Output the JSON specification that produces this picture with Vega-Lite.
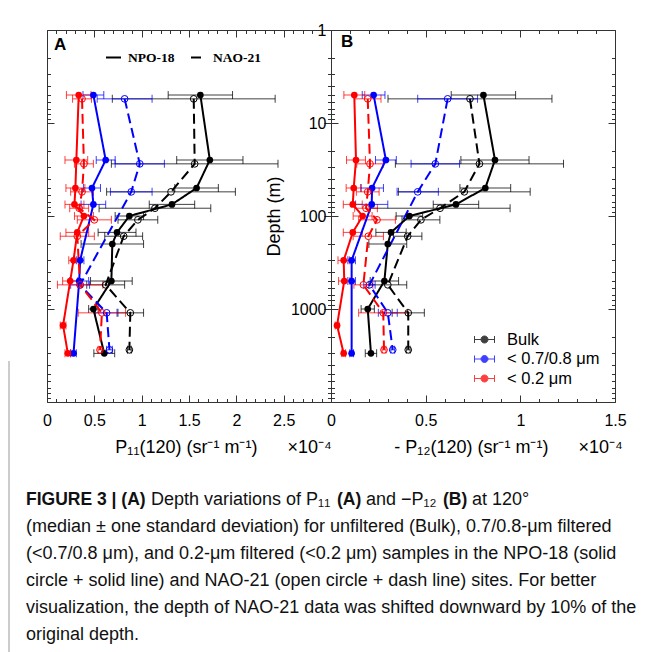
{
"$schema":"https://vega.github.io/schema/vega-lite/v6.json",
"background":"white",
"padding":{"left":8,"top":21,"right":0,"bottom":0},
"config":{"font":"Liberation Sans","view":{"stroke":"#333","strokeWidth":1},
"axis":{"domain":false,"grid":false,"labelFontSize":16,"labelColor":"#000","tickColor":"#333","titleFontSize":18,"titleFontWeight":"normal","titleColor":"#000","labelFont":"Liberation Sans","titleFont":"Liberation Sans","labelFlush":false},
"legend":{"labelFont":"Liberation Sans","labelColor":"#000"}},
"datasets":{
"pts":[
{"p":"A","s":"NPO-18","g":"Bulk","d":5,"v":1.62,"e":0.34},
{"p":"A","s":"NPO-18","g":"Bulk","d":25,"v":1.72,"e":0.35},
{"p":"A","s":"NPO-18","g":"Bulk","d":50,"v":1.58,"e":0.23},
{"p":"A","s":"NPO-18","g":"Bulk","d":75,"v":1.32,"e":0.24},
{"p":"A","s":"NPO-18","g":"Bulk","d":100,"v":0.87,"e":0.15},
{"p":"A","s":"NPO-18","g":"Bulk","d":150,"v":0.74,"e":0.2},
{"p":"A","s":"NPO-18","g":"Bulk","d":200,"v":0.69,"e":0.33},
{"p":"A","s":"NPO-18","g":"Bulk","d":500,"v":0.68,"e":0.22},
{"p":"A","s":"NPO-18","g":"Bulk","d":1000,"v":0.49,"e":0.05},
{"p":"A","s":"NPO-18","g":"Bulk","d":3000,"v":0.605,"e":0.11},
{"p":"A","s":"NAO-21","g":"Bulk","d":5.5,"v":1.55,"e":0.86},
{"p":"A","s":"NAO-21","g":"Bulk","d":27.5,"v":1.56,"e":0.88},
{"p":"A","s":"NAO-21","g":"Bulk","d":55,"v":1.31,"e":0.68},
{"p":"A","s":"NAO-21","g":"Bulk","d":82.5,"v":1.14,"e":0.59},
{"p":"A","s":"NAO-21","g":"Bulk","d":110,"v":0.96,"e":0.21},
{"p":"A","s":"NAO-21","g":"Bulk","d":165,"v":0.81,"e":0.2},
{"p":"A","s":"NAO-21","g":"Bulk","d":550,"v":0.62,"e":0.2},
{"p":"A","s":"NAO-21","g":"Bulk","d":1100,"v":0.88,"e":0.14},
{"p":"A","s":"NAO-21","g":"Bulk","d":2750,"v":0.87,"e":0.02},
{"p":"A","s":"NPO-18","g":"< 0.7/0.8 μm","d":5,"v":0.49,"e":0.11},
{"p":"A","s":"NPO-18","g":"< 0.7/0.8 μm","d":25,"v":0.62,"e":0.1},
{"p":"A","s":"NPO-18","g":"< 0.7/0.8 μm","d":50,"v":0.475,"e":0.09},
{"p":"A","s":"NPO-18","g":"< 0.7/0.8 μm","d":75,"v":0.49,"e":0.13},
{"p":"A","s":"NPO-18","g":"< 0.7/0.8 μm","d":300,"v":0.35,"e":0.04},
{"p":"A","s":"NPO-18","g":"< 0.7/0.8 μm","d":500,"v":0.34,"e":0.1},
{"p":"A","s":"NPO-18","g":"< 0.7/0.8 μm","d":3000,"v":0.28,"e":0.03},
{"p":"A","s":"NAO-21","g":"< 0.7/0.8 μm","d":5.5,"v":0.82,"e":0.29},
{"p":"A","s":"NAO-21","g":"< 0.7/0.8 μm","d":27.5,"v":0.98,"e":0.26},
{"p":"A","s":"NAO-21","g":"< 0.7/0.8 μm","d":55,"v":0.89,"e":0.22},
{"p":"A","s":"NAO-21","g":"< 0.7/0.8 μm","d":550,"v":0.35,"e":0.1},
{"p":"A","s":"NAO-21","g":"< 0.7/0.8 μm","d":1100,"v":0.63,"e":0.12},
{"p":"A","s":"NAO-21","g":"< 0.7/0.8 μm","d":2750,"v":0.66,"e":0.03},
{"p":"A","s":"NPO-18","g":"< 0.2 μm","d":5,"v":0.335,"e":0.13},
{"p":"A","s":"NPO-18","g":"< 0.2 μm","d":25,"v":0.31,"e":0.12},
{"p":"A","s":"NPO-18","g":"< 0.2 μm","d":50,"v":0.3,"e":0.1},
{"p":"A","s":"NPO-18","g":"< 0.2 μm","d":75,"v":0.29,"e":0.1},
{"p":"A","s":"NPO-18","g":"< 0.2 μm","d":100,"v":0.39,"e":0.1},
{"p":"A","s":"NPO-18","g":"< 0.2 μm","d":150,"v":0.32,"e":0.12},
{"p":"A","s":"NPO-18","g":"< 0.2 μm","d":300,"v":0.28,"e":0.05},
{"p":"A","s":"NPO-18","g":"< 0.2 μm","d":500,"v":0.245,"e":0.08},
{"p":"A","s":"NPO-18","g":"< 0.2 μm","d":1500,"v":0.17,"e":0.03},
{"p":"A","s":"NPO-18","g":"< 0.2 μm","d":3000,"v":0.22,"e":0.03},
{"p":"A","s":"NAO-21","g":"< 0.2 μm","d":5.5,"v":0.37,"e":0.1},
{"p":"A","s":"NAO-21","g":"< 0.2 μm","d":27.5,"v":0.39,"e":0.1},
{"p":"A","s":"NAO-21","g":"< 0.2 μm","d":55,"v":0.37,"e":0.12},
{"p":"A","s":"NAO-21","g":"< 0.2 μm","d":82.5,"v":0.34,"e":0.1},
{"p":"A","s":"NAO-21","g":"< 0.2 μm","d":110,"v":0.5,"e":0.18},
{"p":"A","s":"NAO-21","g":"< 0.2 μm","d":165,"v":0.32,"e":0.18},
{"p":"A","s":"NAO-21","g":"< 0.2 μm","d":550,"v":0.35,"e":0.24},
{"p":"A","s":"NAO-21","g":"< 0.2 μm","d":1100,"v":0.58,"e":0.25},
{"p":"A","s":"NAO-21","g":"< 0.2 μm","d":2750,"v":0.56,"e":0.02},
{"p":"B","s":"NPO-18","g":"Bulk","d":5,"v":0.805,"e":0.17},
{"p":"B","s":"NPO-18","g":"Bulk","d":25,"v":0.866,"e":0.18},
{"p":"B","s":"NPO-18","g":"Bulk","d":50,"v":0.815,"e":0.134},
{"p":"B","s":"NPO-18","g":"Bulk","d":75,"v":0.66,"e":0.12},
{"p":"B","s":"NPO-18","g":"Bulk","d":100,"v":0.414,"e":0.07},
{"p":"B","s":"NPO-18","g":"Bulk","d":150,"v":0.317,"e":0.08},
{"p":"B","s":"NPO-18","g":"Bulk","d":200,"v":0.3,"e":0.1},
{"p":"B","s":"NPO-18","g":"Bulk","d":500,"v":0.282,"e":0.075},
{"p":"B","s":"NPO-18","g":"Bulk","d":1000,"v":0.194,"e":0.035},
{"p":"B","s":"NPO-18","g":"Bulk","d":3000,"v":0.211,"e":0.03},
{"p":"B","s":"NAO-21","g":"Bulk","d":5.5,"v":0.734,"e":0.433},
{"p":"B","s":"NAO-21","g":"Bulk","d":27.5,"v":0.784,"e":0.444},
{"p":"B","s":"NAO-21","g":"Bulk","d":55,"v":0.704,"e":0.348},
{"p":"B","s":"NAO-21","g":"Bulk","d":82.5,"v":0.576,"e":0.37},
{"p":"B","s":"NAO-21","g":"Bulk","d":110,"v":0.475,"e":0.1},
{"p":"B","s":"NAO-21","g":"Bulk","d":165,"v":0.405,"e":0.075},
{"p":"B","s":"NAO-21","g":"Bulk","d":550,"v":0.3,"e":0.1},
{"p":"B","s":"NAO-21","g":"Bulk","d":1100,"v":0.408,"e":0.085},
{"p":"B","s":"NAO-21","g":"Bulk","d":2750,"v":0.408,"e":0.01},
{"p":"B","s":"NPO-18","g":"< 0.7/0.8 μm","d":5,"v":0.225,"e":0.06},
{"p":"B","s":"NPO-18","g":"< 0.7/0.8 μm","d":25,"v":0.29,"e":0.055},
{"p":"B","s":"NPO-18","g":"< 0.7/0.8 μm","d":50,"v":0.217,"e":0.06},
{"p":"B","s":"NPO-18","g":"< 0.7/0.8 μm","d":75,"v":0.215,"e":0.085},
{"p":"B","s":"NPO-18","g":"< 0.7/0.8 μm","d":300,"v":0.109,"e":0.02},
{"p":"B","s":"NPO-18","g":"< 0.7/0.8 μm","d":500,"v":0.109,"e":0.02},
{"p":"B","s":"NPO-18","g":"< 0.7/0.8 μm","d":3000,"v":0.109,"e":0.01},
{"p":"B","s":"NAO-21","g":"< 0.7/0.8 μm","d":5.5,"v":0.616,"e":0.158},
{"p":"B","s":"NAO-21","g":"< 0.7/0.8 μm","d":27.5,"v":0.551,"e":0.128},
{"p":"B","s":"NAO-21","g":"< 0.7/0.8 μm","d":55,"v":0.458,"e":0.109},
{"p":"B","s":"NAO-21","g":"< 0.7/0.8 μm","d":550,"v":0.203,"e":0.03},
{"p":"B","s":"NAO-21","g":"< 0.7/0.8 μm","d":1100,"v":0.3,"e":0.05},
{"p":"B","s":"NAO-21","g":"< 0.7/0.8 μm","d":2750,"v":0.326,"e":0.01},
{"p":"B","s":"NPO-18","g":"< 0.2 μm","d":5,"v":0.123,"e":0.055},
{"p":"B","s":"NPO-18","g":"< 0.2 μm","d":25,"v":0.132,"e":0.05},
{"p":"B","s":"NPO-18","g":"< 0.2 μm","d":50,"v":0.12,"e":0.04},
{"p":"B","s":"NPO-18","g":"< 0.2 μm","d":75,"v":0.115,"e":0.05},
{"p":"B","s":"NPO-18","g":"< 0.2 μm","d":100,"v":0.167,"e":0.05},
{"p":"B","s":"NPO-18","g":"< 0.2 μm","d":150,"v":0.115,"e":0.05},
{"p":"B","s":"NPO-18","g":"< 0.2 μm","d":300,"v":0.067,"e":0.03},
{"p":"B","s":"NPO-18","g":"< 0.2 μm","d":500,"v":0.07,"e":0.03},
{"p":"B","s":"NPO-18","g":"< 0.2 μm","d":1500,"v":0.032,"e":0.01},
{"p":"B","s":"NPO-18","g":"< 0.2 μm","d":3000,"v":0.067,"e":0.01},
{"p":"B","s":"NAO-21","g":"< 0.2 μm","d":5.5,"v":0.194,"e":0.07},
{"p":"B","s":"NAO-21","g":"< 0.2 μm","d":27.5,"v":0.206,"e":0.07},
{"p":"B","s":"NAO-21","g":"< 0.2 μm","d":55,"v":0.194,"e":0.06},
{"p":"B","s":"NAO-21","g":"< 0.2 μm","d":82.5,"v":0.185,"e":0.06},
{"p":"B","s":"NAO-21","g":"< 0.2 μm","d":110,"v":0.243,"e":0.097},
{"p":"B","s":"NAO-21","g":"< 0.2 μm","d":165,"v":0.197,"e":0.08},
{"p":"B","s":"NAO-21","g":"< 0.2 μm","d":550,"v":0.171,"e":0.05},
{"p":"B","s":"NAO-21","g":"< 0.2 μm","d":1100,"v":0.276,"e":0.13},
{"p":"B","s":"NAO-21","g":"< 0.2 μm","d":2750,"v":0.28,"e":0.01}
],
"cap":[
{"line":1,"seg":1,"t":"FIGURE 3 | (A)"},
{"line":1,"seg":2,"t":"Depth variations of P₁₁"},
{"line":1,"seg":3,"t":"(A)"},
{"line":1,"seg":4,"t":"and −P₁₂"},
{"line":1,"seg":5,"t":"(B)"},
{"line":1,"seg":6,"t":"at 120°"},
{"line":2,"seg":0,"t":"(median ± one standard deviation) for unfiltered (Bulk), 0.7/0.8-μm filtered"},
{"line":3,"seg":0,"t":"(<0.7/0.8 μm), and 0.2-μm filtered (<0.2 μm) samples in the NPO-18 (solid"},
{"line":4,"seg":0,"t":"circle + solid line) and NAO-21 (open circle + dash line) sites. For better"},
{"line":5,"seg":0,"t":"visualization, the depth of NAO-21 data was shifted downward by 10% of the"},
{"line":6,"seg":0,"t":"original depth."}
]
},
"concat":[
{"width":284,"height":372,"data":{"name":"pts"},
"transform":[{"filter":"datum.p === 'A'"}],
"title":{"text":"A","anchor":"start","frame":"group","offset":0,"dx":7,"dy":24,"fontSize":17,"fontWeight":"bold","color":"#000"},
"layer":[
{"mark":{"type":"errorbar","ticks":{"size":8,"opacity":0.75},"rule":{"opacity":0.75},"thickness":1},
"encoding":{
"x":{"field":"v","type":"quantitative","scale":{"domain":[0,3],"nice":false,"zero":false},"axis":{"orient":"top","values":[0,0.5,1,1.5,2,2.5,3],"labels":false,"tickSize":-7,"title":null}},
"xError":{"field":"e"},
"y":{"field":"d","type":"quantitative","scale":{"type":"log","domain":[1,10000],"reverse":true,"nice":false},"axis":{"orient":"right","values":[1,10,100,1000,10000],"labels":false,"tickSize":-7,"title":null}},
"color":{"field":"g","type":"nominal","scale":{"domain":["Bulk","< 0.7/0.8 μm","< 0.2 μm"],"range":["#000000","#0000ff","#ff0000"]},"legend":{"title":null,"orient":"none","legendX":427,"legendY":299,"symbolType":"M-1,0H1M-1,-0.35V0.35M1,-0.35V0.35M0.35,0A0.35,0.35,0,1,1,-0.35,0A0.35,0.35,0,1,1,0.35,0Z","symbolSize":400,"symbolStrokeWidth":1,"labelFontSize":16.5,"labelOffset":12,"rowPadding":0.5,"padding":0}}}},
{"mark":{"type":"line","strokeWidth":2},
"encoding":{
"x":{"field":"v","type":"quantitative","scale":{"domain":[0,3],"nice":false,"zero":false},"axis":{"orient":"bottom","values":[0,0.5,1,1.5,2,2.5],"format":"~g","tickSize":-7,"labelPadding":17,"title":"P₁₁(120) (sr⁻¹ m⁻¹)\u00a0\u00a0\u00a0\u00a0\u00a0\u00a0×10⁻⁴","titleX":176,"titleY":36,"titleBaseline":"top"}},
"y":{"field":"d","type":"quantitative","scale":{"type":"log","domain":[1,10000],"reverse":true,"nice":false},"axis":{"orient":"left","values":[1,10,100,1000,10000],"labels":false,"tickSize":-7,"title":null}},
"color":{"field":"g","type":"nominal","scale":{"domain":["Bulk","< 0.7/0.8 μm","< 0.2 μm"],"range":["#000000","#0000ff","#ff0000"]},"legend":{"title":null,"orient":"none","legendX":427,"legendY":299,"symbolType":"M-1,0H1M-1,-0.35V0.35M1,-0.35V0.35M0.35,0A0.35,0.35,0,1,1,-0.35,0A0.35,0.35,0,1,1,0.35,0Z","symbolSize":400,"symbolStrokeWidth":1,"labelFontSize":16.5,"labelOffset":12,"rowPadding":0.5,"padding":0}},
"strokeDash":{"field":"s","type":"nominal","scale":{"domain":["NPO-18","NAO-21"],"range":[[1,0],[10,5]]},"legend":{"title":null,"orient":"none","direction":"horizontal","legendX":58,"legendY":19,"symbolType":"stroke","symbolSize":225,"symbolStrokeWidth":2,"symbolStrokeColor":"#000","labelFont":"Liberation Serif","labelFontWeight":"bold","labelFontSize":13.5,"labelOffset":6,"columnPadding":12,"padding":0}},
"order":{"field":"d","type":"quantitative"}}},
{"transform":[{"filter":"datum.s === 'NPO-18'"}],
"mark":{"type":"point","filled":true,"size":45,"opacity":1},
"encoding":{
"x":{"field":"v","type":"quantitative","scale":{"domain":[0,3],"nice":false,"zero":false},"axis":{"orient":"bottom","values":[0.1,0.2,0.3,0.4,0.6,0.7,0.8,0.9,1.1,1.2,1.3,1.4,1.6,1.7,1.8,1.9,2.1,2.2,2.3,2.4,2.6,2.7,2.8,2.9],"labels":false,"tickSize":-3.5,"title":null}},
"y":{"field":"d","type":"quantitative","scale":{"type":"log","domain":[1,10000],"reverse":true,"nice":false},"axis":{"orient":"left","values":[2,3,4,5,6,7,8,9,20,30,40,50,60,70,80,90,200,300,400,500,600,700,800,900,2000,3000,4000,5000,6000,7000,8000,9000],"labels":false,"tickSize":-3.5,"title":null}},
"color":{"field":"g","type":"nominal","scale":{"domain":["Bulk","< 0.7/0.8 μm","< 0.2 μm"],"range":["#000000","#0000ff","#ff0000"]},"legend":{"title":null,"orient":"none","legendX":427,"legendY":299,"symbolType":"M-1,0H1M-1,-0.35V0.35M1,-0.35V0.35M0.35,0A0.35,0.35,0,1,1,-0.35,0A0.35,0.35,0,1,1,0.35,0Z","symbolSize":400,"symbolStrokeWidth":1,"labelFontSize":16.5,"labelOffset":12,"rowPadding":0.5,"padding":0}}}},
{"transform":[{"filter":"datum.s === 'NAO-21'"}],
"mark":{"type":"point","filled":false,"size":45,"strokeWidth":1,"opacity":1},
"encoding":{
"x":{"field":"v","type":"quantitative","scale":{"domain":[0,3],"nice":false,"zero":false},"axis":{"orient":"top","values":[0.1,0.2,0.3,0.4,0.6,0.7,0.8,0.9,1.1,1.2,1.3,1.4,1.6,1.7,1.8,1.9,2.1,2.2,2.3,2.4,2.6,2.7,2.8,2.9],"labels":false,"tickSize":-3.5,"title":null}},
"y":{"field":"d","type":"quantitative","scale":{"type":"log","domain":[1,10000],"reverse":true,"nice":false},"axis":{"orient":"right","values":[2,3,4,5,6,7,8,9,20,30,40,50,60,70,80,90,200,300,400,500,600,700,800,900,2000,3000,4000,5000,6000,7000,8000,9000],"labels":false,"tickSize":-3.5,"title":null}},
"color":{"field":"g","type":"nominal","scale":{"domain":["Bulk","< 0.7/0.8 μm","< 0.2 μm"],"range":["#000000","#0000ff","#ff0000"]},"legend":{"title":null,"orient":"none","legendX":427,"legendY":299,"symbolType":"M-1,0H1M-1,-0.35V0.35M1,-0.35V0.35M0.35,0A0.35,0.35,0,1,1,-0.35,0A0.35,0.35,0,1,1,0.35,0Z","symbolSize":400,"symbolStrokeWidth":1,"labelFontSize":16.5,"labelOffset":12,"rowPadding":0.5,"padding":0}}}}
],
"resolve":{"axis":{"x":"independent","y":"independent"}}},
{"width":284,"height":372,"data":{"name":"pts"},
"transform":[{"filter":"datum.p === 'B'"}],
"title":{"text":"B","anchor":"start","frame":"group","offset":0,"dx":10,"dy":29,"fontSize":17,"fontWeight":"bold","color":"#000"},
"layer":[
{"mark":{"type":"errorbar","ticks":{"size":8,"opacity":0.75},"rule":{"opacity":0.75},"thickness":1},
"encoding":{
"x":{"field":"v","type":"quantitative","scale":{"domain":[0,1.5],"nice":false,"zero":false},"axis":{"orient":"top","values":[0,0.5,1,1.5],"labels":false,"tickSize":-7,"title":null}},
"xError":{"field":"e"},
"y":{"field":"d","type":"quantitative","scale":{"type":"log","domain":[1,10000],"reverse":true,"nice":false},"axis":{"orient":"right","values":[1,10,100,1000,10000],"labels":false,"tickSize":-7,"title":null}},
"color":{"field":"g","type":"nominal","scale":{"domain":["Bulk","< 0.7/0.8 μm","< 0.2 μm"],"range":["#000000","#0000ff","#ff0000"]},"legend":{"title":null,"orient":"none","legendX":427,"legendY":299,"symbolType":"M-1,0H1M-1,-0.35V0.35M1,-0.35V0.35M0.35,0A0.35,0.35,0,1,1,-0.35,0A0.35,0.35,0,1,1,0.35,0Z","symbolSize":400,"symbolStrokeWidth":1,"labelFontSize":16.5,"labelOffset":12,"rowPadding":0.5,"padding":0}}}},
{"mark":{"type":"line","strokeWidth":2},
"encoding":{
"x":{"field":"v","type":"quantitative","scale":{"domain":[0,1.5],"nice":false,"zero":false},"axis":{"orient":"bottom","values":[0,0.5,1,1.5],"format":"~g","tickSize":-7,"labelPadding":17,"title":"- P₁₂(120) (sr⁻¹ m⁻¹)\u00a0\u00a0\u00a0\u00a0\u00a0\u00a0×10⁻⁴","titleX":177,"titleY":36,"titleBaseline":"top"}},
"y":{"field":"d","type":"quantitative","scale":{"type":"log","domain":[1,10000],"reverse":true,"nice":false},"axis":{"orient":"left","values":[1,10,100,1000],"format":"~g","labelPadding":12,"tickSize":-7,"title":"Depth (m)","titleX":-57,"titleBaseline":"middle"}},
"color":{"field":"g","type":"nominal","scale":{"domain":["Bulk","< 0.7/0.8 μm","< 0.2 μm"],"range":["#000000","#0000ff","#ff0000"]},"legend":{"title":null,"orient":"none","legendX":427,"legendY":299,"symbolType":"M-1,0H1M-1,-0.35V0.35M1,-0.35V0.35M0.35,0A0.35,0.35,0,1,1,-0.35,0A0.35,0.35,0,1,1,0.35,0Z","symbolSize":400,"symbolStrokeWidth":1,"labelFontSize":16.5,"labelOffset":12,"rowPadding":0.5,"padding":0}},
"strokeDash":{"field":"s","type":"nominal","scale":{"domain":["NPO-18","NAO-21"],"range":[[1,0],[10,5]]},"legend":{"title":null,"orient":"none","direction":"horizontal","legendX":58,"legendY":19,"symbolType":"stroke","symbolSize":225,"symbolStrokeWidth":2,"symbolStrokeColor":"#000","labelFont":"Liberation Serif","labelFontWeight":"bold","labelFontSize":13.5,"labelOffset":6,"columnPadding":12,"padding":0}},
"order":{"field":"d","type":"quantitative"}}},
{"transform":[{"filter":"datum.s === 'NPO-18'"}],
"mark":{"type":"point","filled":true,"size":45,"opacity":1},
"encoding":{
"x":{"field":"v","type":"quantitative","scale":{"domain":[0,1.5],"nice":false,"zero":false},"axis":{"orient":"bottom","values":[0.1,0.2,0.3,0.4,0.6,0.7,0.8,0.9,1.1,1.2,1.3,1.4],"labels":false,"tickSize":-3.5,"title":null}},
"y":{"field":"d","type":"quantitative","scale":{"type":"log","domain":[1,10000],"reverse":true,"nice":false},"axis":{"orient":"left","values":[2,3,4,5,6,7,8,9,20,30,40,50,60,70,80,90,200,300,400,500,600,700,800,900,2000,3000,4000,5000,6000,7000,8000,9000],"labels":false,"tickSize":-3.5,"title":null}},
"color":{"field":"g","type":"nominal","scale":{"domain":["Bulk","< 0.7/0.8 μm","< 0.2 μm"],"range":["#000000","#0000ff","#ff0000"]},"legend":{"title":null,"orient":"none","legendX":427,"legendY":299,"symbolType":"M-1,0H1M-1,-0.35V0.35M1,-0.35V0.35M0.35,0A0.35,0.35,0,1,1,-0.35,0A0.35,0.35,0,1,1,0.35,0Z","symbolSize":400,"symbolStrokeWidth":1,"labelFontSize":16.5,"labelOffset":12,"rowPadding":0.5,"padding":0}}}},
{"transform":[{"filter":"datum.s === 'NAO-21'"}],
"mark":{"type":"point","filled":false,"size":45,"strokeWidth":1,"opacity":1},
"encoding":{
"x":{"field":"v","type":"quantitative","scale":{"domain":[0,1.5],"nice":false,"zero":false},"axis":{"orient":"top","values":[0.1,0.2,0.3,0.4,0.6,0.7,0.8,0.9,1.1,1.2,1.3,1.4],"labels":false,"tickSize":-3.5,"title":null}},
"y":{"field":"d","type":"quantitative","scale":{"type":"log","domain":[1,10000],"reverse":true,"nice":false},"axis":{"orient":"right","values":[2,3,4,5,6,7,8,9,20,30,40,50,60,70,80,90,200,300,400,500,600,700,800,900,2000,3000,4000,5000,6000,7000,8000,9000],"labels":false,"tickSize":-3.5,"title":null}},
"color":{"field":"g","type":"nominal","scale":{"domain":["Bulk","< 0.7/0.8 μm","< 0.2 μm"],"range":["#000000","#0000ff","#ff0000"]},"legend":{"title":null,"orient":"none","legendX":427,"legendY":299,"symbolType":"M-1,0H1M-1,-0.35V0.35M1,-0.35V0.35M0.35,0A0.35,0.35,0,1,1,-0.35,0A0.35,0.35,0,1,1,0.35,0Z","symbolSize":400,"symbolStrokeWidth":1,"labelFontSize":16.5,"labelOffset":12,"rowPadding":0.5,"padding":0}}}}
],
"resolve":{"axis":{"x":"independent","y":"independent"}}},
{"width":284,"height":135,"view":{"stroke":null},"data":{"name":"cap"},
"layer":[
{"data":{"values":[{"k":1}]},"mark":{"type":"rule","color":"#9a9a9a","strokeWidth":1},"encoding":{"x":{"value":-38},"y":{"value":-139},"y2":{"value":153}}},
{"transform":[{"filter":"datum.seg === 0"}],"mark":{"type":"text","align":"left","baseline":"middle","fontSize":18,"color":"#111"},"encoding":{"x":{"value":-21},"y":{"field":"line","type":"ordinal","scale":{"type":"point","padding":0,"domain":[1,2,3,4,5,6]},"axis":null},"text":{"field":"t"}}},
{"transform":[{"filter":"datum.seg === 1"}],"mark":{"type":"text","align":"left","baseline":"middle","fontSize":17.5,"fontWeight":"bold","color":"#111"},"encoding":{"x":{"value":-21},"y":{"field":"line","type":"ordinal","scale":{"type":"point","padding":0,"domain":[1,2,3,4,5,6]},"axis":null},"text":{"field":"t"}}},
{"transform":[{"filter":"datum.seg === 2"}],"mark":{"type":"text","align":"left","baseline":"middle","fontSize":18,"dx":125,"color":"#111"},"encoding":{"x":{"value":-21},"y":{"field":"line","type":"ordinal","scale":{"type":"point","padding":0,"domain":[1,2,3,4,5,6]},"axis":null},"text":{"field":"t"}}},
{"transform":[{"filter":"datum.seg === 3"}],"mark":{"type":"text","align":"left","baseline":"middle","fontSize":17.5,"fontWeight":"bold","dx":311,"color":"#111"},"encoding":{"x":{"value":-21},"y":{"field":"line","type":"ordinal","scale":{"type":"point","padding":0,"domain":[1,2,3,4,5,6]},"axis":null},"text":{"field":"t"}}},
{"transform":[{"filter":"datum.seg === 4"}],"mark":{"type":"text","align":"left","baseline":"middle","fontSize":18,"dx":340,"color":"#111"},"encoding":{"x":{"value":-21},"y":{"field":"line","type":"ordinal","scale":{"type":"point","padding":0,"domain":[1,2,3,4,5,6]},"axis":null},"text":{"field":"t"}}},
{"transform":[{"filter":"datum.seg === 5"}],"mark":{"type":"text","align":"left","baseline":"middle","fontSize":17.5,"fontWeight":"bold","dx":417,"color":"#111"},"encoding":{"x":{"value":-21},"y":{"field":"line","type":"ordinal","scale":{"type":"point","padding":0,"domain":[1,2,3,4,5,6]},"axis":null},"text":{"field":"t"}}},
{"transform":[{"filter":"datum.seg === 6"}],"mark":{"type":"text","align":"left","baseline":"middle","fontSize":18,"dx":446,"color":"#111"},"encoding":{"x":{"value":-21},"y":{"field":"line","type":"ordinal","scale":{"type":"point","padding":0,"domain":[1,2,3,4,5,6]},"axis":null},"text":{"field":"t"}}}
]}
],
"columns":2,
"spacing":{"row":98,"column":0},
"bounds":"flush"
}
